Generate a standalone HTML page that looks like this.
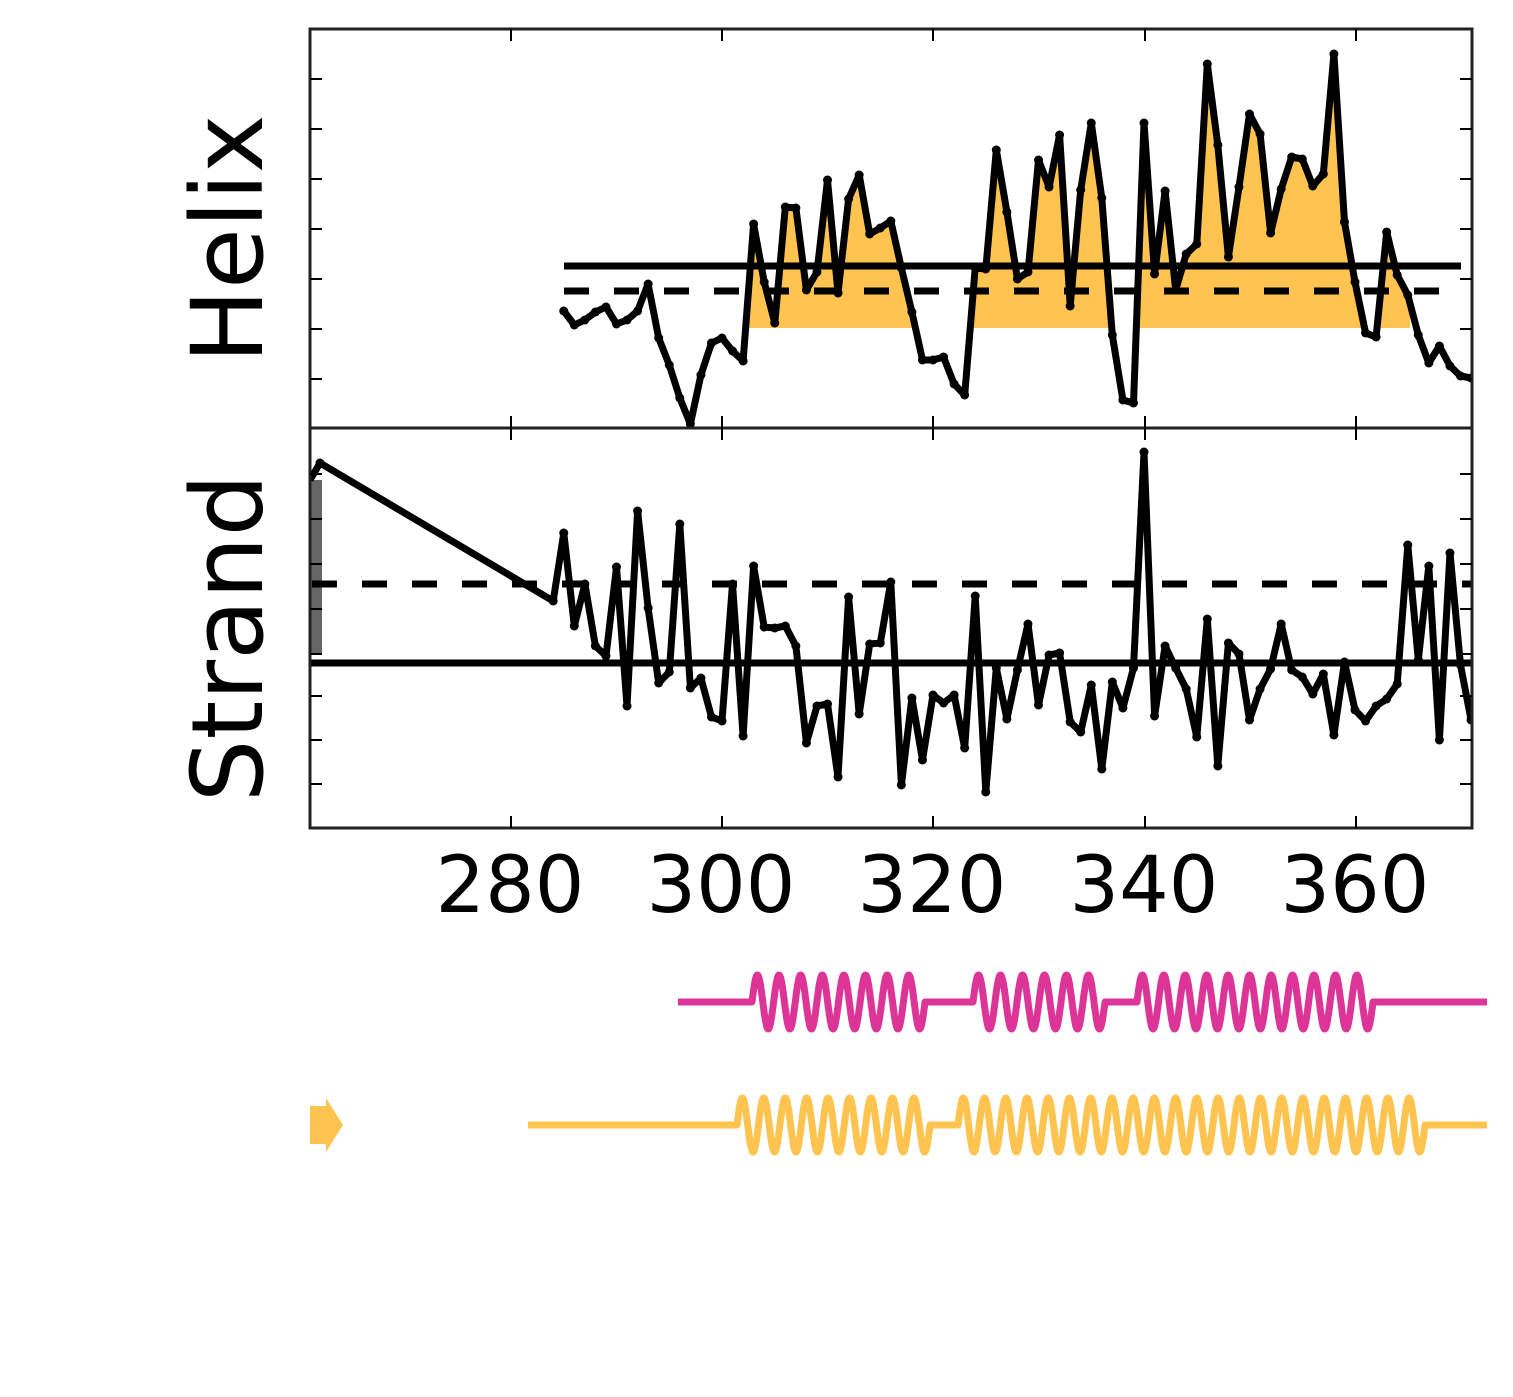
<!DOCTYPE html>
<html><head><meta charset="utf-8"><style>
html,body{margin:0;padding:0;background:#fff;}
svg{display:block;}
text{font-family:"DejaVu Sans","Liberation Sans",sans-serif;fill:#000;}
</style></head><body>
<svg id="s" width="1513" height="1397" viewBox="0 0 1513 1397" xmlns="http://www.w3.org/2000/svg">
<defs>
<clipPath id="fc"><rect x="745" y="0" width="170" height="328"/><rect x="963" y="0" width="447" height="328"/></clipPath>
<clipPath id="ax1"><rect x="310" y="29" width="1162" height="399"/></clipPath>
<clipPath id="ax2"><rect x="310" y="428" width="1162" height="400"/></clipPath>
</defs>
<g id="g"></g>
<text x="510" y="912" font-size="78" text-anchor="middle">280</text>
<text x="721" y="912" font-size="78" text-anchor="middle">300</text>
<text x="932" y="912" font-size="78" text-anchor="middle">320</text>
<text x="1144" y="912" font-size="78" text-anchor="middle">340</text>
<text x="1355" y="912" font-size="78" text-anchor="middle">360</text>
<text transform="translate(262,239) rotate(-90)" font-size="99" text-anchor="middle">Helix</text>
<text transform="translate(262,638) rotate(-90)" font-size="99" text-anchor="middle">Strand</text>
<polygon points="310,1106 326,1106 326,1098 343,1125 326,1152 326,1144 310,1144" fill="#fec44f"/>
</svg>
<script>
var X=n=>511+(n-280)*10.55;
var H=[311,325,320,312,307,324,320,311,284,338,365,398,424,375,343,338,351,361,224,282,323,207,208,290,272,180,293,199,175,234,228,221,268,312,360,360,357,384,395,268,269,150,212,279,272,160,187,135,306,190,123,198,335,400,403,123,274,191,290,254,244,64,145,257,187,114,134,233,189,157,159,186,174,54,222,282,333,337,232,275,295,335,363,346,366,376,378];
var S=[601,533,626,584,646,656,567,706,511,608,683,672,524,688,678,717,721,584,736,566,627,628,626,646,743,706,704,777,597,714,644,643,582,785,698,760,695,703,695,748,596,792,668,719,670,624,705,655,653,722,732,685,769,682,708,668,452,716,646,668,689,737,619,766,643,654,720,689,669,624,670,677,694,674,735,662,710,721,706,699,684,545,660,566,740,553,665,720];
var hp=H.map((y,i)=>[X(285+i),y]),sp=[[310,480],[320,463]].concat(S.map((y,i)=>[X(284+i),y]));
var P=a=>a.map(p=>p[0].toFixed(1)+','+p[1]).join(' ');
var o='';
o+='<polygon clip-path="url(#fc)" points="'+P(hp)+' 1471,328 564,328" fill="#fec44f"/>';
o+='<rect x="310" y="480" width="12" height="175" fill="#666"/>';
o+='<line x1="564" y1="266" x2="1461" y2="266" stroke="#000" stroke-width="7"/>';
o+='<line x1="564" y1="291" x2="1440" y2="291" stroke="#000" stroke-width="7" stroke-dasharray="25,25"/>';
o+='<line x1="310" y1="663" x2="1472" y2="663" stroke="#000" stroke-width="7"/>';
o+='<line x1="312" y1="584" x2="1472" y2="584" stroke="#000" stroke-width="7" stroke-dasharray="25,25"/>';
o+='<g clip-path="url(#ax1)"><polyline points="'+P(hp)+'" fill="none" stroke="#000" stroke-width="7" stroke-linejoin="round"/>';
hp.forEach(p=>o+='<circle cx="'+p[0]+'" cy="'+p[1]+'" r="4.5"/>');o+='</g>';
o+='<g clip-path="url(#ax2)"><polyline points="'+P(sp)+'" fill="none" stroke="#000" stroke-width="7" stroke-linejoin="round"/>';
sp.slice(1).forEach(p=>o+='<circle cx="'+p[0]+'" cy="'+p[1]+'" r="4.5"/>');o+='</g>';
o+='<rect x="310" y="29" width="1162" height="399" fill="none" stroke="#222" stroke-width="3"/>';
o+='<rect x="310" y="428" width="1162" height="400" fill="none" stroke="#222" stroke-width="3"/>';
[511,722,933,1145,1356].forEach(x=>{[[29,1],[428,-1],[428,1],[828,-1]].forEach(a=>{o+='<line x1="'+x+'" y1="'+a[0]+'" x2="'+x+'" y2="'+(a[0]+a[1]*12)+'" stroke="#000" stroke-width="2"/>';});});
[79,129,179,229,279,329,379,474,519,564,609,654,696,740,784].forEach(y=>{o+='<line x1="310" y1="'+y+'" x2="322" y2="'+y+'" stroke="#000" stroke-width="2"/><line x1="1460" y1="'+y+'" x2="1472" y2="'+y+'" stroke="#000" stroke-width="2"/>';});
function coil(y,x0,x1,segs,col){var d='M'+x0+','+y;segs.forEach(s=>{d+=' L'+s[0]+','+y;var n=s[2],L=s[1]-s[0],A=27;for(var k=0;k<=n*40;k++){var t=k/40;var x=s[0]+L*t/n;var yy=y-A*Math.sin(2*Math.PI*t);d+=' L'+x.toFixed(1)+','+yy.toFixed(1);}});d+=' L'+x1+','+y;return '<path d="'+d+'" fill="none" stroke="'+col+'" stroke-width="7" stroke-linejoin="round"/>';}
o+=coil(1002,678,1487,[[752,925,8],[973,1105,6],[1137,1373,11]],'#dd3497');
o+=coil(1125,528,1487,[[737,930,9],[958,1425,22]],'#fec44f');
document.getElementById('g').innerHTML=o;
</script>
</body></html>
